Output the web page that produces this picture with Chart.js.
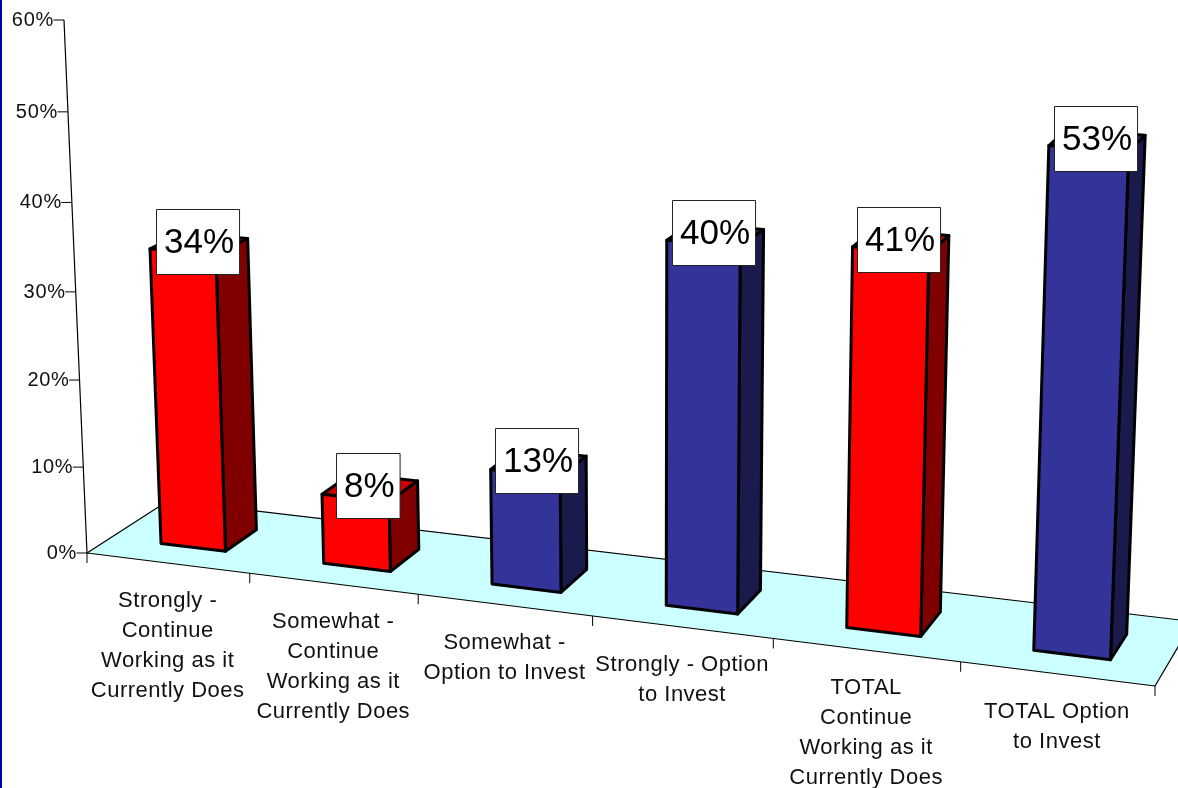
<!DOCTYPE html>
<html>
<head>
<meta charset="utf-8">
<style>
  html, body { margin: 0; padding: 0; background: #fff; overflow: hidden; }
  #wrap { position: relative; width: 1178px; height: 788px; }
  #edge { position: absolute; left: 0; top: 0; width: 2px; height: 788px; background: #0000aa; }
</style>
<script src="https://cdn.jsdelivr.net/npm/chart.js@4"></script>
</head>
<body>
<div id="wrap">
  <canvas id="chart" width="1178" height="788"></canvas>
  <div id="edge"></div>
</div>
<script>
const categories = [
  ["Strongly -", "Continue", "Working as it", "Currently Does"],
  ["Somewhat -", "Continue", "Working as it", "Currently Does"],
  ["Somewhat -", "Option to Invest"],
  ["Strongly - Option", "to Invest"],
  ["TOTAL", "Continue", "Working as it", "Currently Does"],
  ["TOTAL Option", "to Invest"]
];
const values = [34, 8, 13, 40, 41, 53];
const frontColors = ["#ff0000", "#ff0000", "#333399", "#333399", "#ff0000", "#333399"];
const sideColors = ["#800000", "#800000", "#1a1a4d", "#1a1a4d", "#800000", "#1a1a4d"];
const topColors = ["#cc0000", "#cc0000", "#29297a", "#29297a", "#cc0000", "#29297a"];

// floor of the 3D box on screen, and where its uprights converge
const floorFL = [87, 553], floorFR = [1155, 686], floorBR = [1193, 621.5], floorBL = [168.5, 500.6];
const axisTop = [64, 20];
const vanish = [648, 13549];
const barFront = 0.29, barBack = 0.69;
const barShift = 0.002;

function makeCamera() {
  const [x0, y0] = floorFL, [x1, y1] = floorFR, [x2, y2] = floorBR, [x3, y3] = floorBL;
  const dx1 = x1 - x2, dx2 = x3 - x2, sx = x0 - x1 + x2 - x3;
  const dy1 = y1 - y2, dy2 = y3 - y2, sy = y0 - y1 + y2 - y3;
  const det = dx1 * dy2 - dx2 * dy1;
  const g = (sx * dy2 - dx2 * sy) / det;
  const h = (dx1 * sy - sx * dy1) / det;
  const a = x1 - x0 + g * x1, b = x3 - x0 + h * x3;
  const d = y1 - y0 + g * y1, e = y3 - y0 + h * y3;
  const k = (y0 - axisTop[1]) / (axisTop[1] - vanish[1]);
  // u along the front edge, v up the axis, z into the floor, all 0..1
  return (u, v, z) => {
    const w = g * u + h * z + 1 + k * v;
    return [
      (a * u + b * z + x0 + k * v * vanish[0]) / w,
      (d * u + e * z + y0 + k * v * vanish[1]) / w
    ];
  };
}
const project = makeCamera();

function poly(ctx, pts, fill, stroke, lw) {
  ctx.beginPath();
  pts.forEach((p, i) => i ? ctx.lineTo(p[0], p[1]) : ctx.moveTo(p[0], p[1]));
  ctx.closePath();
  if (fill) { ctx.fillStyle = fill; ctx.fill(); }
  if (stroke) { ctx.strokeStyle = stroke; ctx.lineWidth = lw; ctx.lineJoin = "round"; ctx.stroke(); }
}

function seg(ctx, a, b, lw) {
  ctx.beginPath();
  ctx.moveTo(a[0], a[1]);
  ctx.lineTo(b[0], b[1]);
  ctx.strokeStyle = "#000";
  ctx.lineWidth = lw;
  ctx.stroke();
}

const perspectivePlugin = {
  id: "perspective",
  beforeDatasetDraw(chart) {
    const { ctx, chartArea, scales } = chart;
    const toU = px => (px - chartArea.left) / chartArea.width;
    const toV = py => (scales.y.getPixelForValue(0) - py) / chartArea.height;

    // floor
    poly(ctx, [project(0, 0, 0), project(1, 0, 0), project(1, 0, 1), project(0, 0, 1)], "#ccffff", "#000", 1.2);

    // y axis
    seg(ctx, project(0, 0, 0), project(0, 1, 0), 1.2);
    scales.y.ticks.forEach(t => {
      const p = project(0, toV(scales.y.getPixelForValue(t.value)), 0);
      seg(ctx, [p[0] - 10.5, p[1]], p, 1);
      ctx.fillStyle = "#111";
      ctx.font = "20px 'Liberation Sans'";
      ctx.letterSpacing = "0.7px";
      ctx.textAlign = "right";
      ctx.textBaseline = "middle";
      ctx.fillText(t.label, p[0] - 10, p[1] + 0.5);
      ctx.letterSpacing = "0px";
    });

    // x axis ticks and labels
    seg(ctx, project(0, 0, 0), [87, 563], 1);
    categories.forEach((lines, i) => {
      const cx = scales.x.getPixelForValue(i);
      const half = scales.x.width / categories.length / 2;
      const edge = project(toU(cx + half), 0, 0);
      seg(ctx, edge, [edge[0], edge[1] + 10], 1);
      const mid = project(toU(cx), 0, 0);
      ctx.fillStyle = "#111";
      ctx.font = "22px 'Liberation Sans'";
      ctx.letterSpacing = "0.5px";
      ctx.textAlign = "center";
      ctx.textBaseline = "middle";
      lines.forEach((s, j) => ctx.fillText(s, mid[0], mid[1] + 38 + j * 30));
      ctx.letterSpacing = "0px";
    });

    // bars, drawn from the bar elements the library laid out
    const bars = chart.getDatasetMeta(0).data;
    bars.forEach((bar, i) => {
      const u0 = toU(bar.x - bar.width / 2) + barShift, u1 = toU(bar.x + bar.width / 2) + barShift;
      const v = toV(bar.y);
      const fbl = project(u0, 0, barFront), fbr = project(u1, 0, barFront);
      const ftl = project(u0, v, barFront), ftr = project(u1, v, barFront);
      const bbr = project(u1, 0, barBack), btr = project(u1, v, barBack), btl = project(u0, v, barBack);
      poly(ctx, [ftl, ftr, btr, btl], topColors[i], "#000", 3);
      poly(ctx, [fbr, bbr, btr, ftr], sideColors[i], "#000", 3);
      poly(ctx, [fbl, fbr, ftr, ftl], frontColors[i], "#000", 3);
    });

    // value boxes sit on the centre of each bar's top
    bars.forEach((bar, i) => {
      const c = project(toU(bar.x) + barShift, toV(bar.y), (barFront + barBack) / 2);
      const text = values[i] + "%";
      ctx.font = "35px 'Liberation Sans'";
      const w = ctx.measureText(text).width + 13, h = 65;
      const x = Math.round(c[0] - 2 - w / 2) + 0.5, y = Math.round(c[1] - 2 - h / 2) + 0.5;
      ctx.fillStyle = "#fff";
      ctx.fillRect(x, y, w, h);
      ctx.strokeStyle = "#222";
      ctx.lineWidth = 1;
      ctx.strokeRect(x, y, w, h);
      ctx.fillStyle = "#000";
      ctx.textAlign = "center";
      ctx.textBaseline = "middle";
      ctx.fillText(text, x + w / 2 + 1, y + h / 2 + 1);
    });

    return false; // skip the flat bars
  }
};

new Chart(document.getElementById("chart"), {
  type: "bar",
  data: {
    labels: categories,
    datasets: [{ data: values, backgroundColor: frontColors, barPercentage: 0.4, categoryPercentage: 1 }]
  },
  options: {
    responsive: false,
    animation: false,
    layout: { padding: 0 },
    plugins: { legend: { display: false }, tooltip: { enabled: false } },
    scales: {
      x: { display: false },
      y: {
        display: false,
        min: 0,
        max: 60,
        ticks: { stepSize: 10, callback: v => v + "%" }
      }
    }
  },
  plugins: [perspectivePlugin]
});
</script>
</body>
</html>
